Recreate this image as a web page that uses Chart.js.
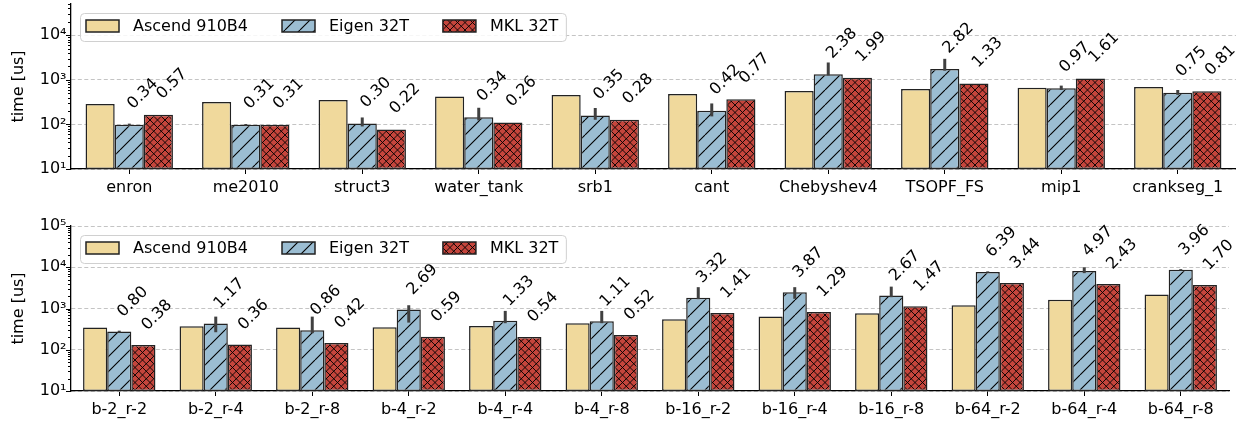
<!DOCTYPE html>
<html>
<head>
<meta charset="utf-8">
<script src="https://cdn.jsdelivr.net/npm/chart.js@4.4.1/dist/chart.umd.min.js"></script>
<style>
body { margin: 0; background: #fff; }
#top_box { position: absolute; left: 0; top: 0; width: 1236px; height: 200px; }
#bot_box { position: absolute; left: 0; top: 210px; width: 1236px; height: 211px; }
</style>
</head>
<body>
<div id="top_box"><canvas id="top_chart" width="1236" height="200"></canvas></div>
<div id="bot_box"><canvas id="bot_chart" width="1236" height="211"></canvas></div>
<script>
// series names (legend)
const series_names = ['Ascend 910B4', 'Eigen 32T', 'MKL 32T']

// top panel: matrices
const top_labels = ['enron', 'me2010', 'struct3', 'water_tank', 'srb1', 'cant', 'Chebyshev4', 'TSOPF_FS', 'mip1', 'crankseg_1']
const top_ascend = [288, 316, 351, 424, 454, 478, 557, 618, 662, 686]
const top_eigen = [98, 98, 105, 144, 159, 201, 1326, 1743, 642, 515]
const top_mkl = [164, 98, 77, 110, 127, 368, 1108, 822, 1066, 556]
const top_eigen_lo = [93, 94, 90, 123, 127, 151, 1250, 1600, 590, 460]
const top_eigen_hi = [104, 102, 143, 236, 233, 295, 2443, 2950, 740, 590]
const top_eigen_txt = ['0.34', '0.31', '0.30', '0.34', '0.35', '0.42', '2.38', '2.82', '0.97', '0.75']
const top_mkl_txt = ['0.57', '0.31', '0.22', '0.26', '0.28', '0.77', '1.99', '1.33', '1.61', '0.81']

// bottom panel: block / row configs
const bot_labels = ['b-2_r-2', 'b-2_r-4', 'b-2_r-8', 'b-4_r-2', 'b-4_r-4', 'b-4_r-8', 'b-16_r-2', 'b-16_r-4', 'b-16_r-8', 'b-64_r-2', 'b-64_r-4', 'b-64_r-8']
const bot_ascend = [345, 372, 345, 352, 379, 440, 551, 640, 771, 1205, 1625, 2188]
const bot_eigen = [276, 435, 297, 947, 504, 488, 1829, 2477, 2059, 7700, 8076, 8664]
const bot_mkl = [131, 134, 145, 208, 205, 229, 777, 826, 1133, 4145, 3949, 3720]
const bot_eigen_lo = [262, 266, 252, 455, 440, 440, 1683, 1720, 1880, 7400, 7200, 8400]
const bot_eigen_hi = [290, 636, 636, 1200, 875, 875, 3290, 3290, 3390, 7950, 10000, 9000]
const bot_eigen_txt = ['0.80', '1.17', '0.86', '2.69', '1.33', '1.11', '3.32', '3.87', '2.67', '6.39', '4.97', '3.96']
const bot_mkl_txt = ['0.38', '0.36', '0.42', '0.59', '0.54', '0.52', '1.41', '1.29', '1.47', '3.44', '2.43', '1.70']

Chart.defaults.font.family = "'DejaVu Sans', sans-serif"
Chart.defaults.font.size = 16
Chart.defaults.color = '#000'

const sup_digits = ['\u2070', '\u00b9', '\u00b2', '\u00b3', '\u2074', '\u2075', '\u2076']

function isDecade(v) {
    if (!v) return false
    let l = Math.log10(v)
    return Math.abs(l - Math.round(l)) < 1e-9
}

function logTicks(min, max) {
    let out = []
    for (let d = Math.pow(10, Math.floor(Math.log10(min))); d <= max; d *= 10) {
        for (let m = 1; m <= 9; m++) {
            let v = m * d
            if (v >= min && v <= max * 1.0001) out.push({ value: v })
        }
    }
    return out
}

function makeHatch(base, kind) {
    const c = document.createElement('canvas')
    c.width = 15
    c.height = 15
    const g = c.getContext('2d')
    g.fillStyle = base
    g.fillRect(0, 0, 15, 15)
    g.strokeStyle = '#000'
    g.beginPath()
    if (kind == '/') {
        g.lineWidth = 1.1
        for (let k = -15; k <= 15; k += 15) { g.moveTo(k, 15); g.lineTo(k + 15, 0) }
    } else {
        g.lineWidth = 0.9
        for (let k = -15; k <= 15; k += 7.5) {
            g.moveTo(k, 15); g.lineTo(k + 15, 0)
            g.moveTo(k, 0); g.lineTo(k + 15, 15)
        }
    }
    g.stroke()
    return g.createPattern(c, 'repeat')
}

const yellow = '#f0d99c'
const eigen_fill = makeHatch('#9bbdd2', '/')
const mkl_fill = makeHatch('#c5453c', 'x')

function makeChart(id, labels, ascend, eigen, mkl, lo, hi, eTxt, mTxt, yMax, padTop, padRight, xHeight) {
    const extras = {
        id: 'extras_' + id,
        afterDatasetsDraw(chart) {
            const ctx = chart.ctx
            const ys = chart.scales.y
            const area = chart.chartArea
            // error bars on Eigen
            const em = chart.getDatasetMeta(1)
            ctx.save()
            ctx.strokeStyle = '#404040'
            ctx.lineWidth = 3
            for (let i = 0; i < lo.length; i++) {
                let x = em.data[i].x
                ctx.beginPath()
                ctx.moveTo(x, ys.getPixelForValue(lo[i]))
                ctx.lineTo(x, ys.getPixelForValue(hi[i]))
                ctx.stroke()
            }
            ctx.restore()

            // rotated ratio labels
            ctx.save()
            ctx.font = '16px "DejaVu Sans"'
            ctx.fillStyle = '#000'
            ctx.textAlign = 'left'
            ctx.textBaseline = 'alphabetic'
            const txts = [null, eTxt, mTxt]
            const vals = [null, eigen, mkl]
            for (let d = 1; d <= 2; d++) {
                const meta = chart.getDatasetMeta(d)
                for (let i = 0; i < txts[d].length; i++) {
                    let x = meta.data[i].x + 4
                    let y = ys.getPixelForValue(vals[d][i] * 2.2)
                    ctx.save()
                    ctx.translate(x, y)
                    ctx.rotate(-Math.PI / 4)
                    ctx.fillText(txts[d][i], 0, 0)
                    ctx.restore()
                }
            }
            ctx.restore()

            // minor / major tick marks on the log axis
            ctx.save()
            ctx.strokeStyle = '#000'
            ctx.lineWidth = 1
            for (let t of ys.ticks) {
                let y = Math.round(ys.getPixelForValue(t.value)) + 0.5
                let len = isDecade(t.value) ? 5 : 3
                ctx.beginPath()
                ctx.moveTo(area.left - len, y)
                ctx.lineTo(area.left, y)
                ctx.stroke()
            }
            ctx.restore()
        },
        afterDraw(chart) {
            // legend box in the upper-left corner
            const ctx = chart.ctx
            const area = chart.chartArea
            ctx.save()
            ctx.font = '16px "DejaVu Sans"'
            const ds = chart.data.datasets
            const widths = ds.map(d => ctx.measureText(d.label).width)
            let w = 6 + 7.5
            for (let i = 0; i < ds.length; i++) w += 33 + 14 + widths[i] + (i < ds.length - 1 ? 34 : 0)
            const x0 = area.left + 9, y0 = area.top + 9, h = 28
            ctx.beginPath()
            ctx.roundRect(x0 + 0.5, y0 + 0.5, w, h, 4)
            ctx.fillStyle = 'rgba(255,255,255,0.85)'
            ctx.fill()
            ctx.strokeStyle = '#d0d0d0'
            ctx.lineWidth = 1
            ctx.stroke()
            let x = x0 + 6
            ctx.textBaseline = 'middle'
            for (let i = 0; i < ds.length; i++) {
                ctx.fillStyle = ds[i].backgroundColor
                ctx.fillRect(x, y0 + 7, 33, 12)
                ctx.strokeStyle = '#222'
                ctx.lineWidth = 1.5
                ctx.strokeRect(x, y0 + 7, 33, 12)
                ctx.fillStyle = '#000'
                ctx.fillText(ds[i].label, x + 47, y0 + 13.5)
                x += 33 + 14 + widths[i] + 34
            }
            ctx.restore()
        }
    }

    const bar_style = { borderColor: '#222', borderWidth: 1.5, borderSkipped: false, categoryPercentage: 0.75, barPercentage: 1.0 }

    return new Chart(document.getElementById(id), {
        type: 'bar',
        data: {
            labels: labels,
            datasets: [
                Object.assign({ label: series_names[0], data: ascend, backgroundColor: yellow }, bar_style),
                Object.assign({ label: series_names[1], data: eigen, backgroundColor: eigen_fill }, bar_style),
                Object.assign({ label: series_names[2], data: mkl, backgroundColor: mkl_fill }, bar_style),
            ]
        },
        options: {
            responsive: false,
            animation: false,
            layout: { padding: { top: padTop, right: padRight, left: 0, bottom: 0 } },
            plugins: { legend: { display: false }, tooltip: { enabled: false } },
            scales: {
                x: {
                    offset: true,
                    grid: { display: true, offset: false, drawOnChartArea: false, drawTicks: true, tickLength: 5, tickColor: '#000', tickWidth: 1 },
                    border: { color: '#000', width: 1.3 },
                    ticks: { color: '#000', padding: 4, maxRotation: 0, autoSkip: false },
                    afterFit: s => { s.height = xHeight; s.paddingLeft = 0; s.paddingRight = 0 }
                },
                y: {
                    type: 'logarithmic',
                    min: 10,
                    max: yMax,
                    afterBuildTicks: s => { s.ticks = logTicks(10, yMax) },
                    grid: {
                        drawTicks: false,
                        lineWidth: 1,
                        color: c => (c.tick && isDecade(c.tick.value)) ? '#c4c4c4' : 'rgba(0,0,0,0)'
                    },
                    border: { color: '#000', width: 1.3, dash: [4, 2.5] },
                    ticks: {
                        color: '#000',
                        padding: 4.5,
                        autoSkip: false,
                        callback: v => isDecade(v) ? '10' + sup_digits[Math.round(Math.log10(v))] : ''
                    },
                    title: { display: true, text: 'time [us]', color: '#000', font: { size: 16 }, padding: { top: 9, bottom: 0 } },
                    afterFit: s => { s.width = 71; s.paddingTop = 0; s.paddingBottom = 0 }
                }
            }
        },
        plugins: [extras]
    })
}

makeChart('top_chart', top_labels, top_ascend, top_eigen, top_mkl, top_eigen_lo, top_eigen_hi, top_eigen_txt, top_mkl_txt, 50000, 4, 0, 31)
makeChart('bot_chart', bot_labels, bot_ascend, bot_eigen, bot_mkl, bot_eigen_lo, bot_eigen_hi, bot_eigen_txt, bot_mkl_txt, 100000, 16, 7, 30)
</script>
</body>
</html>
